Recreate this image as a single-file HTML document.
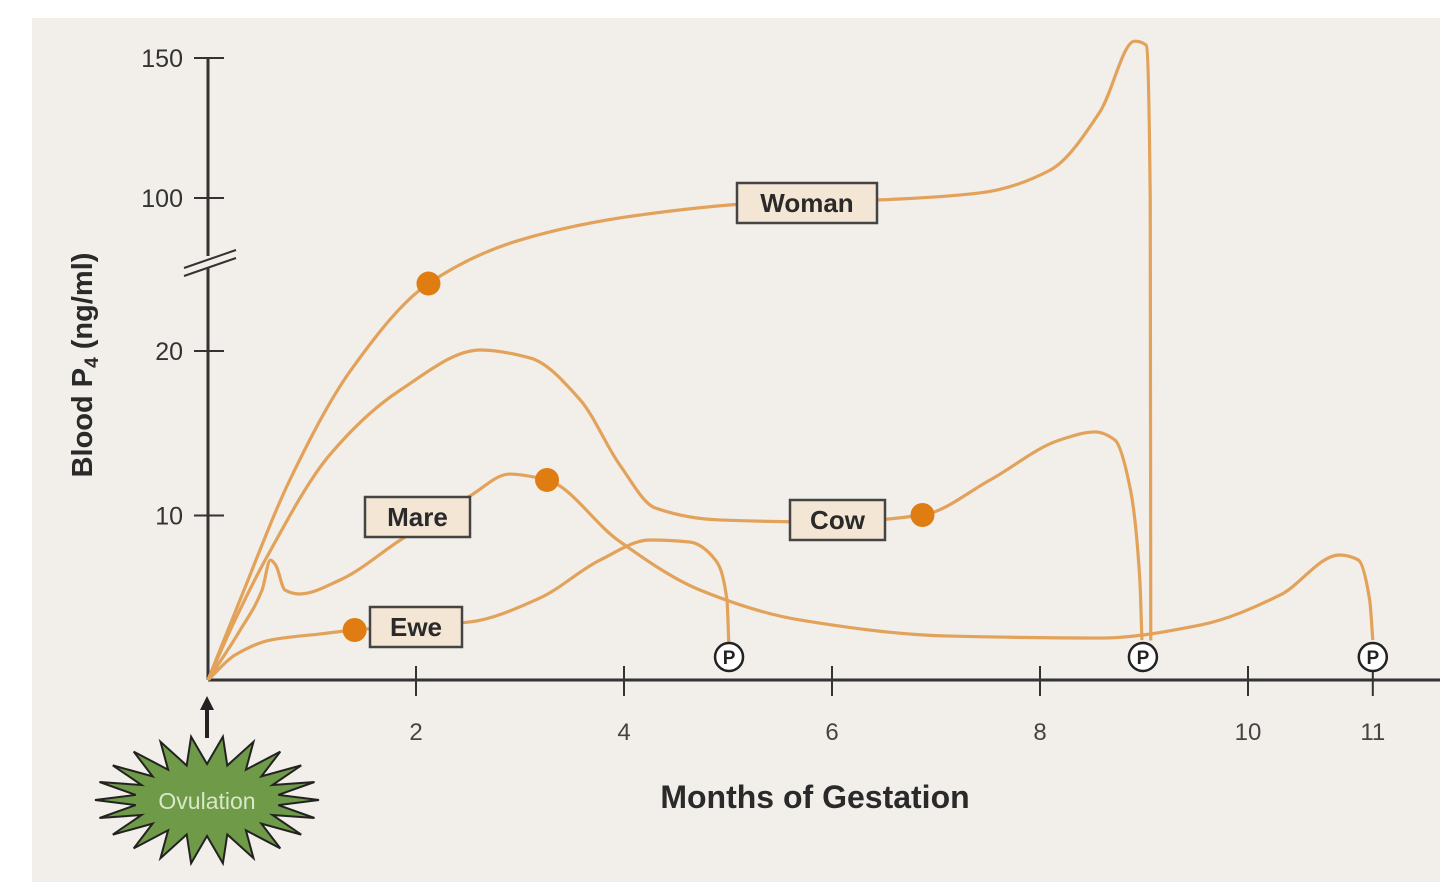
<!DOCTYPE html>
<html><head><meta charset="utf-8"><style>
html,body{margin:0;padding:0;background:#fff;}
svg{display:block;font-family:"Liberation Sans",sans-serif;}
</style></head><body>
<svg width="1440" height="884" viewBox="0 0 1440 884">
<rect x="32" y="18" width="1408" height="864" fill="#f2eeea"/>
<g id="axes"></g>
<g id="series"></g>
<g id="labels"></g>
<g>
  <path id="burst" fill="#6f9a48" stroke="#222" stroke-width="2"/>
  <text x="207" y="809" font-size="23" fill="#d8e8c8" text-anchor="middle">Ovulation</text>
  <line x1="207" y1="738" x2="207" y2="708" stroke="#222" stroke-width="4"/>
  <polygon points="200,710 207,696 214,710" fill="#222"/>
</g>
<text x="815" y="808" font-size="32" font-weight="bold" fill="#2a2a2a" text-anchor="middle">Months of Gestation</text>
<text transform="translate(92,365) rotate(-90)" font-size="29" font-weight="bold" fill="#2a2a2a" text-anchor="middle">Blood P<tspan font-size="19" dy="6">4</tspan><tspan dy="-6"> (ng/ml)</tspan></text>
</svg>
<script>
const xTicks=[2,4,6,8,10,11.2];
const xTickLabels=['2','4','6','8','10','11'];
const yTicks=[10,20,100,150];
const yTickLabels=['10','20','100','150'];
const womanMonths=[0,.31,.79,1.37,2.12,3.0,4.15,5.31,6.46,7.42,8.1,8.58,8.91,9.02,9.06,9.065];
const womanValues=[0,4.9,12.2,18.8,24.1,55.6,82,94.7,98,101.8,110,131,156,154.6,98,2.4];
const mareMonths=[0,.31,.52,.6,.65,.74,.88,1.27,1.85,2.52,2.9,3.26,3.94,4.73,5.69,7.13,8.58,9.54,10.31,10.88,11.06,11.17,11.2];
const mareValues=[0,3.04,5.47,7.29,6.99,5.47,5.23,6.08,8.51,11.19,12.52,12.16,8.51,5.47,3.65,2.67,2.55,3.34,5.17,7.6,7.3,4.86,2.43];
const cowMonths=[0,.26,.55,1.17,1.85,2.62,3.1,3.58,3.96,4.3,4.92,5.98,6.87,7.52,8.19,8.53,8.72,8.87,8.96,8.98];
const cowValues=[0,3.65,7.29,13.68,17.63,20.06,19.57,17.02,13.07,10.46,9.73,9.6,10.03,12.16,14.59,15.08,14.59,11.55,6.08,2.43];
const eweMonths=[0,.26,.6,1.08,1.41,2.52,3.19,3.77,4.25,4.63,4.88,4.99,5.01];
const eweValues=[0,1.52,2.43,2.8,3.04,3.53,4.98,7.29,8.51,8.39,7.29,4.86,1.82];
const seriesNames=['woman','mare','cow','ewe'];
const dotIndex=[4,11,12,4];

const NS='http://www.w3.org/2000/svg';
const X0=208,Y0=680,PXM=104;
function xs(m){return X0+PXM*m;}
function ys(v){
  if(v<=25) return Y0-16.45*v;
  if(v<=100) return 269-(v-25)*71/75;
  return 198-(v-100)*2.8;
}
function mk(tag,attrs,parent){const e=document.createElementNS(NS,tag);for(const k in attrs)e.setAttribute(k,attrs[k]);parent.appendChild(e);return e;}
function monotone(pts){
  const n=pts.length;const d=[],m=[];
  for(let i=0;i<n-1;i++){d.push((pts[i+1][1]-pts[i][1])/(pts[i+1][0]-pts[i][0]));}
  for(let i=0;i<n;i++){
    if(i===0)m.push(d[0]);else if(i===n-1)m.push(d[n-2]);
    else{ if(d[i-1]*d[i]<=0)m.push(0); else { const h0=pts[i][0]-pts[i-1][0],h1=pts[i+1][0]-pts[i][0];
      m.push(3*(h0+h1)/((2*h1+h0)/d[i-1]+(h1+2*h0)/d[i])); } }
  }
  let s='M'+pts[0][0].toFixed(1)+','+pts[0][1].toFixed(1);
  for(let i=0;i<n-1;i++){
    const h=(pts[i+1][0]-pts[i][0])/3;
    s+=' C'+(pts[i][0]+h).toFixed(2)+','+(pts[i][1]+m[i]*h).toFixed(2)+' '+(pts[i+1][0]-h).toFixed(2)+','+(pts[i+1][1]-m[i+1]*h).toFixed(2)+' '+pts[i+1][0].toFixed(2)+','+pts[i+1][1].toFixed(2);
  }
  return s;
}
const axes=document.getElementById('axes');
let e;
e=mk('line',{x1:X0,y1:58,x2:X0,y2:Y0,stroke:'#333',"stroke-width":3},axes);


e=mk('line',{x1:X0,y1:Y0,x2:1440,y2:Y0,stroke:'#333',"stroke-width":3},axes);


xTicks.forEach((t,i)=>{
  const x=xs(t);
  const l=mk('line',{x1:x,y1:666,x2:x,y2:696,stroke:'#333',"stroke-width":2},axes);
  
  
  const tx=mk('text',{x:x,y:740,"font-size":24,fill:'#444',"text-anchor":'middle'},axes);
  tx.textContent=xTickLabels[i];
  
  
});
yTicks.forEach((t,i)=>{
  const y=ys(t);
  const l=mk('line',{x1:194,y1:y,x2:224,y2:y,stroke:'#333',"stroke-width":2},axes);
  
  
  const tx=mk('text',{x:183,y:y+9,"font-size":25,fill:'#333',"text-anchor":'end'},axes);
  tx.textContent=yTickLabels[i];
  
  
});
e=mk('rect',{x:198,y:256,width:20,height:12,fill:'#f2eeea'},axes);


e=mk('path',{d:'M184,268 L236,250 M184,276 L236,258',stroke:'#333',"stroke-width":2,fill:'none'},axes);



const sg=document.getElementById('series');
const allM=[womanMonths,mareMonths,cowMonths,eweMonths];
const allV=[womanValues,mareValues,cowValues,eweValues];
allM.forEach((ms,k)=>{
  const pts=ms.map((m,i)=>[xs(m),ys(allV[k][i])]);
  const p=mk('path',{d:monotone(pts),fill:'none',stroke:'#e2a25a',"stroke-width":3.2,"stroke-linejoin":'round'},sg);
  
  
});
allM.forEach((ms,k)=>{
  const i=dotIndex[k];
  const c=mk('circle',{cx:xs(ms[i]),cy:ys(allV[k][i]),r:12,fill:'#e07d12'},sg);
  
  
});
[1,2,3].forEach(k=>{
  const ms=allM[k];const m=ms[ms.length-1];
  const g=mk('g',{},sg);
  
  
  mk('circle',{cx:xs(m)+(k===2?1:0),cy:657,r:14,fill:'#fff',stroke:'#222',"stroke-width":2.5},g);
  const t=mk('text',{x:xs(m)+(k===2?1:0),y:664,"font-size":19,"font-weight":'bold',fill:'#222',"text-anchor":'middle'},g);
  t.textContent='P';
});
const lg=document.getElementById('labels');
const labelText=['Woman','Mare','Cow','Ewe'];
const labelBox=[[737,183,140,40],[365,497,105,40],[790,500,95,40],[370,607,92,40]];
labelText.forEach((s,i)=>{
  const b=labelBox[i];
  const g=mk('g',{},lg);
  
  
  mk('rect',{x:b[0],y:b[1],width:b[2],height:b[3],fill:'#f4e6d4',stroke:'#444',"stroke-width":2.5},g);
  const t=mk('text',{x:b[0]+b[2]/2,y:b[1]+29,"font-size":26,"font-weight":'bold',fill:'#2a2a2a',"text-anchor":'middle'},g);
  t.textContent=s;
});
// starburst
let d='';const cx=207,cy=800,N=22;
for(let i=0;i<N*2;i++){
  const a=Math.PI*i/N;const o=i%2===0;
  const rx=o?112:72,ry=o?64:36;
  d+=(i?'L':'M')+(cx+rx*Math.cos(a)).toFixed(1)+','+(cy+ry*Math.sin(a)).toFixed(1);
}
document.getElementById('burst').setAttribute('d',d+'Z');
</script>
</body></html>
